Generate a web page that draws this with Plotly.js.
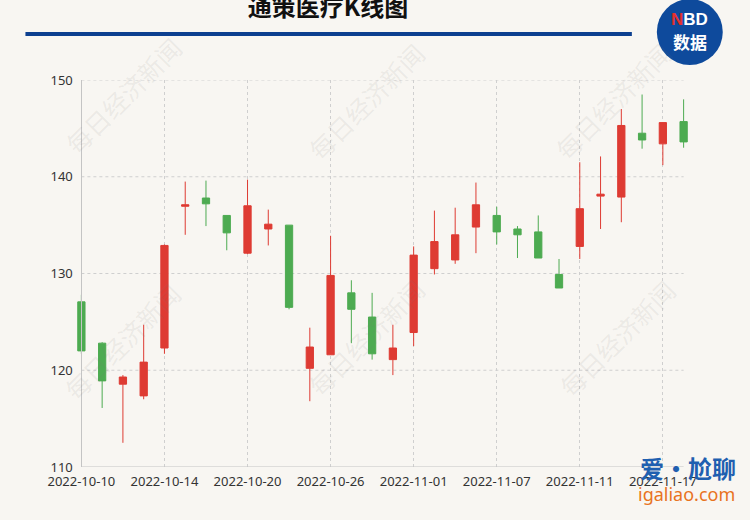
<!DOCTYPE html>
<html>
<head>
<meta charset="utf-8">
<script src="https://cdn.plot.ly/plotly-3.0.1.min.js"></script>
<style>html,body{margin:0;padding:0;background:#f8f6f2;}#chart{width:750px;height:520px;}</style>
</head>
<body>
<div id="chart"></div>
<script>
const dates = ["2022-10-10","2022-10-11","2022-10-12","2022-10-13","2022-10-14","2022-10-17","2022-10-18","2022-10-19","2022-10-20","2022-10-21","2022-10-24","2022-10-25","2022-10-26","2022-10-27","2022-10-28","2022-10-31","2022-11-01","2022-11-02","2022-11-03","2022-11-04","2022-11-07","2022-11-08","2022-11-09","2022-11-10","2022-11-11","2022-11-14","2022-11-15","2022-11-16","2022-11-17","2022-11-18"];
const openP  = [127.07,122.8,118.56,117.35,122.3,136.95,137.8,136.0,132.1,134.6,135.0,120.2,121.6,128.0,125.5,121.1,123.9,130.5,131.4,134.8,136.0,134.6,134.3,129.9,132.8,138.0,137.9,144.5,143.4,145.7];
const closeP = [122.0,118.9,119.3,120.84,132.9,137.1,137.2,134.2,137.0,135.1,126.5,122.4,129.8,126.3,121.7,122.3,131.9,133.3,134.0,137.1,134.3,134.0,131.6,128.5,136.7,138.2,145.3,143.8,145.6,143.6];
const highP  = [127.8,122.9,119.5,124.7,133.0,139.5,139.6,136.0,139.7,136.6,135.0,124.4,133.9,129.3,128.0,124.7,132.8,136.5,136.8,139.4,136.9,134.9,136.0,131.5,141.5,142.1,147.0,148.5,145.6,148.0];
const lowP   = [121.7,116.1,112.5,117.0,121.7,134.0,134.9,132.4,132.0,132.9,126.3,116.8,121.6,122.8,121.1,119.5,122.5,129.9,131.0,132.1,133.0,131.6,131.6,128.5,131.5,134.6,135.3,142.9,141.2,143.0];
const xTickDates = ["2022-10-10","2022-10-14","2022-10-20","2022-10-26","2022-11-01","2022-11-07","2022-11-11","2022-11-17"];
const yTicks = [110,120,130,140,150];
const titleText = "通策医疗K线图";
const watermarkText = "每日经济新闻";

const RED = "#de3b33", GREEN = "#4dab51";
const trace = {
  type: "candlestick",
  x: dates, open: openP, high: highP, low: lowP, close: closeP,
  increasing: {line: {color: RED, width: 1}, fillcolor: RED},
  decreasing: {line: {color: GREEN, width: 1}, fillcolor: GREEN},
  whiskerwidth: 0,
  hoverinfo: "skip"
};

const L = 70.6, W = 623.6, T = 80, H = 387;
const px = v => (v - L) / W;          // pixel x -> paper x
const py = v => (T + H - v) / H;      // pixel y -> paper y

const shapes = [];
yTicks.filter(v => v > yTicks[0]).forEach(v => shapes.push({
  type: "line", xref: "x", yref: "y", x0: dates[0], x1: dates[dates.length-1], y0: v, y1: v,
  line: {color: "#cfcfcf", width: 1, dash: "dot"}, layer: "below"
}));
shapes.push({type: "line", xref: "x", yref: "y", x0: dates[0], x1: dates[dates.length-1], y0: yTicks[0], y1: yTicks[0],
  line: {color: "#c4c4c4", width: 1}, layer: "above"});
// header rule
shapes.push({type: "rect", xref: "paper", yref: "paper", x0: px(25), x1: px(632), y0: py(36), y1: py(32),
  fillcolor: "#0d4090", line: {width: 0}});
// NBD badge
shapes.push({type: "circle", xref: "paper", yref: "paper", x0: px(657), x1: px(723), y0: py(65), y1: py(-1),
  fillcolor: "#0e4a9c", line: {width: 0}});

const annotations = [];
const ann = (x, y, text, font, extra) => Object.assign({xref: "paper", yref: "paper", x: px(x), y: py(y), text: text,
  showarrow: false, xanchor: "center", yanchor: "middle", font: font}, extra || {});
[[123,95],[366,101],[613,101],[122,341],[366,337],[617,338]].forEach(p => annotations.push(
  ann(p[0], p[1], watermarkText, {family: "Noto Sans CJK SC", size: 25, color: "rgba(120,120,120,0.11)"}, {textangle: -45})));
annotations.push(ann(690, 20, "<b><span style='color:#e8302c'>N</span>BD</b>", {family: "Liberation Sans", size: 17, color: "#ffffff"}));
annotations.push(ann(690, 42, "<b>数据</b>", {family: "Noto Sans CJK SC", size: 17, color: "#ffffff"}));
annotations.push(ann(688, 467, "<b>爱·尬聊</b>", {family: "Noto Sans CJK SC", size: 24, color: "#1f5fb0"}));
annotations.push(ann(687, 494, "igaliao.com", {family: "Noto Sans", size: 18, color: "#e8731e"}));

const layout = {
  width: 750, height: 520,
  margin: {l: L, r: 750 - L - W, t: T, b: 520 - T - H, pad: 0},
  paper_bgcolor: "#f8f6f2", plot_bgcolor: "#f8f6f2",
  showlegend: false,
  boxgap: 0.5,
  title: {text: "<b>" + titleText + "</b>", x: 328/750, xanchor: "center", y: 1 - 8/520, yanchor: "middle", yref: "container",
    font: {family: "Noto Sans CJK SC", size: 24, color: "#111"}},
  xaxis: {
    type: "category", range: [-0.5, dates.length - 0.5],
    rangeslider: {visible: false},
    tickmode: "array", tickvals: xTickDates, ticktext: xTickDates,
    showgrid: true, gridcolor: "#cfcfcf", griddash: "dot", gridwidth: 1,
    showline: false, zeroline: false, ticks: "", ticklabelstandoff: 5,
    tickfont: {family: "Noto Sans", size: 13, color: "#333"}
  },
  yaxis: {
    range: [yTicks[0], yTicks[yTicks.length-1]], tickvals: yTicks,
    anchor: "free", position: px(81), side: "left",
    showline: true, linecolor: "#c4c4c4", linewidth: 1,
    showgrid: false, zeroline: false, ticks: "", ticklabelstandoff: 6,
    tickfont: {family: "Noto Sans", size: 13, color: "#333"}
  },
  shapes: shapes,
  annotations: annotations
};

Plotly.newPlot("chart", [trace], layout, {displayModeBar: false, staticPlot: true});
</script>
</body>
</html>
